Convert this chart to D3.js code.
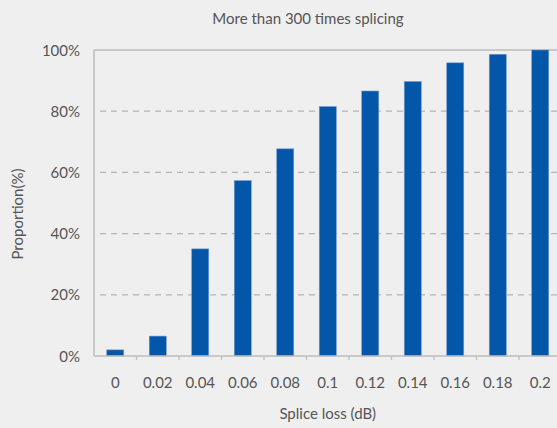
<!DOCTYPE html>
<html><head><meta charset="utf-8">
<script src="https://cdn.jsdelivr.net/npm/d3@7"></script>
<style>
html,body{margin:0;padding:0;background:#efefef;overflow:hidden}
svg{display:block}
text{font-family:"Source Sans Pro",Lato,"Noto Sans",sans-serif;fill:#555}
</style></head><body>
<svg id="c" width="557" height="428"></svg>
<script>
const categories = ["0","0.02","0.04","0.06","0.08","0.1","0.12","0.14","0.16","0.18","0.2"];
const values = [2, 6.5, 35, 57.3, 67.7, 81.5, 86.6, 89.7, 95.8, 98.6, 100];
const yTicks = [0, 20, 40, 60, 80, 100];
const title = "More than 300 times splicing";
const xTitle = "Splice loss (dB)";
const yTitle = "Proportion(%)";

const svg = d3.select("#c");
const mLeft = 94, mTop = 50, mBottom = 356, bandW = 42.5;
const x = d3.scaleBand().domain(categories).range([mLeft, mLeft + bandW * categories.length]).paddingInner(0.6).paddingOuter(0.3);
const y = d3.scaleLinear().domain([0, 100]).range([mBottom, mTop]);

// gridlines
svg.append("g").selectAll("line").data(yTicks.filter(d => d > 0 && d < 100)).join("line")
  .attr("x1", mLeft + 6).attr("x2", 557).attr("y1", d => y(d)).attr("y2", d => y(d))
  .attr("stroke", "#b5b5b5").attr("stroke-width", 1.2).attr("stroke-dasharray", "6,5");
// top line
svg.append("line").attr("x1", mLeft).attr("x2", 557).attr("y1", y(100)).attr("y2", y(100))
  .attr("stroke", "#bdbdbd").attr("stroke-width", 1.5);
// left axis line
svg.append("line").attr("x1", mLeft).attr("x2", mLeft).attr("y1", y(100)).attr("y2", y(0))
  .attr("stroke", "#bdbdbd").attr("stroke-width", 1.5);

// bars
svg.append("g").selectAll("rect").data(values).join("rect")
  .attr("x", (d, i) => x(categories[i]))
  .attr("width", x.bandwidth())
  .attr("y", d => y(d))
  .attr("height", d => y(0) - y(d))
  .attr("fill", "#0456a8")
  .attr("stroke", "#6f97c9").attr("stroke-width", 0.6);

// x axis
const xAxis = svg.append("g").attr("transform", `translate(0,${mBottom})`);
xAxis.append("line").attr("x1", mLeft).attr("x2", 557).attr("stroke", "#bdbdbd").attr("stroke-width", 1.5);
xAxis.selectAll("line.tk").data(categories.slice(1)).join("line").attr("class", "tk")
  .attr("x1", d => x(d) - x.step() * x.paddingInner() / 2).attr("x2", d => x(d) - x.step() * x.paddingInner() / 2)
  .attr("y1", 0).attr("y2", 4).attr("stroke", "#bdbdbd").attr("stroke-width", 1.2);
xAxis.selectAll("text").data(categories).join("text")
  .attr("x", d => x(d) + x.bandwidth() / 2).attr("y", 32)
  .attr("text-anchor", "middle").attr("font-size", 15).text(d => d);

// y labels
svg.append("g").selectAll("text").data(yTicks).join("text")
  .attr("x", 80).attr("y", d => y(d) + 5.5).attr("text-anchor", "end").attr("font-size", 15)
  .text(d => d + "%");

// titles
svg.append("text").attr("x", 308).attr("y", 24).attr("text-anchor", "middle").attr("font-size", 15).text(title);
svg.append("text").attr("x", mLeft + bandW * categories.length / 2).attr("y", 419).attr("text-anchor", "middle").attr("font-size", 15).text(xTitle);
svg.append("text").attr("transform", "translate(23,214) rotate(-90)").attr("text-anchor", "middle").attr("font-size", 15).text(yTitle);
</script>
</body></html>
